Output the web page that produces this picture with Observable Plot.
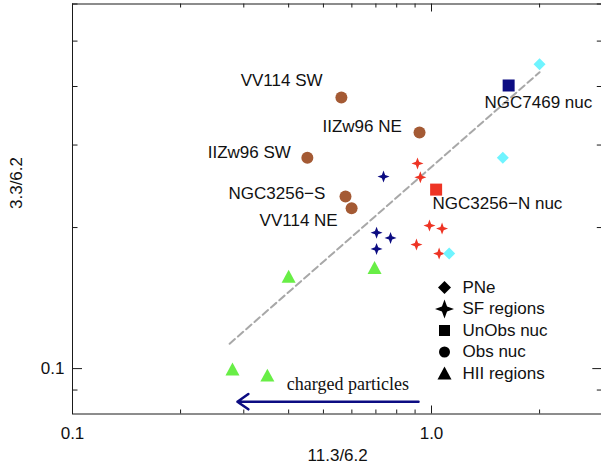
<!DOCTYPE html>
<html><head><meta charset="utf-8">
<script src="https://cdn.jsdelivr.net/npm/d3@7"></script>
<script src="https://cdn.jsdelivr.net/npm/@observablehq/plot@0.6"></script>
<style>
html,body{margin:0;padding:0;background:#fff;overflow:hidden;}
</style></head><body><div id="chart"></div>
<script>
// ---- data ----
const pneX = [2.0, 1.58, 1.12];
const pneY = [0.446, 0.282, 0.176];
const sfRedX = [0.914, 0.931, 0.987, 1.07, 0.908, 1.05];
const sfRedY = [0.274, 0.256, 0.202, 0.199, 0.184, 0.176];
const sfNavyX = [0.735, 0.703, 0.769, 0.703];
const sfNavyY = [0.257, 0.195, 0.190, 0.180];
const unobsX = [1.64, 1.03];
const unobsY = [0.402, 0.241];
const unobsGroup = ["navy", "red"];
const obsX = [0.561, 0.926, 0.451, 0.576, 0.599];
const obsY = [0.379, 0.319, 0.282, 0.233, 0.220];
const hiiX = [0.694, 0.400, 0.279, 0.349];
const hiiY = [0.164, 0.157, 0.0995, 0.0966];
const fitX = [0.274, 2.0];
const fitY = [0.113, 0.429];
const labelNames = ["VV114 SW", "IIZw96 NE", "IIZw96 SW", "NGC3256\u2212S", "VV114 NE", "NGC7469 nuc", "NGC3256\u2212N nuc"];
const labelX = [0.294, 0.497, 0.238, 0.272, 0.332, 1.405, 1.006];
const labelY = [0.412, 0.329, 0.289, 0.2365, 0.207, 0.370, 0.2253];
const arrowX = [0.92, 0.288];
const arrowY = [0.085, 0.085];
const arrowText = "charged particles";
const arrowTextX = [0.585];
const arrowTextY = [0.0927];
const legendLabels = ["PNe", "SF regions", "UnObs nuc", "Obs nuc", "HII regions"];
const xTickLabels = [0.1, 1.0];
const yTickLabels = [0.1];
const xMinorTicks = [0.2, 0.3, 0.4, 0.5, 0.6, 0.7, 0.8, 0.9, 2, 3];
const xMajorTicks = [0.1, 1];
const yMinorTicks = [0.09, 0.2, 0.3, 0.4, 0.5, 0.6];
const yMajorTicks = [0.1];
const xLabel = "11.3/6.2";
const yLabel = "3.3/6.2";

// ---- styles ----
const C = {cyan: "#6ff4ff", navy: "#0c0c82", red: "#ee3424", brown: "#a45a34", green: "#68ee46", ink: "#1a1a1a"};
const FONT = "Liberation Sans, Arial, Helvetica, sans-serif";
const R = s => Math.sqrt(s / Math.PI);
const diamondSym = {draw(c, s) { const r = R(s); c.moveTo(0, -r); c.lineTo(r, 0); c.lineTo(0, r); c.lineTo(-r, 0); c.closePath(); }};
const starSym = {draw(c, s) { const r = R(s), a = 0.27 * r; c.moveTo(0, -r); c.lineTo(a, -a); c.lineTo(r, 0); c.lineTo(a, a); c.lineTo(0, r); c.lineTo(-a, a); c.lineTo(-r, 0); c.lineTo(-a, -a); c.closePath(); }};
const squareSym = {draw(c, s) { const r = R(s); c.rect(-r, -r, 2 * r, 2 * r); }};
const circleSym = {draw(c, s) { const r = R(s); c.moveTo(r, 0); c.arc(0, 0, r, 0, 2 * Math.PI); c.closePath(); }};
const triSym = {draw(c, s) { const r = R(s); c.moveTo(0, -r); c.lineTo(r, 0.85 * r); c.lineTo(-r, 0.85 * r); c.closePath(); }};

const W = 601, H = 471, mL = 72, mT = 3.5, mB = 57.5, mR = -1.3;
const frameW = W - mL - mR, frameH = H - mT - mB;

const zip = (xs, ys, extra = {}) => xs.map((x, i) => ({x, y: ys[i], i, ...Object.fromEntries(Object.entries(extra).map(([k, v]) => [k, v[i]]))}));

const legendSyms = [
  {sym: diamondSym, r: 6.5},
  {sym: starSym, r: 9.5},
  {sym: squareSym, r: 5.5},
  {sym: circleSym, r: 5.5},
  {sym: triSym, r: 7}
];

const txt = {fontSize: 17, fontFamily: FONT, fill: "#111", lineAnchor: "middle"};

const marks = [
  // ticks (inward, all four sides)
  Plot.tickX(xMinorTicks, {x: d => d, insetTop: frameH - 4, stroke: C.ink}),
  Plot.tickX(xMinorTicks, {x: d => d, insetBottom: frameH - 4, stroke: C.ink}),
  Plot.tickX(xMajorTicks, {x: d => d, insetTop: frameH - 8, stroke: C.ink}),
  Plot.tickX(xMajorTicks, {x: d => d, insetBottom: frameH - 8, stroke: C.ink}),
  Plot.tickY(yMinorTicks, {y: d => d, insetRight: frameW - 5.5, stroke: C.ink}),
  Plot.tickY(yMinorTicks, {y: d => d, insetLeft: frameW - 5.5, stroke: C.ink}),
  Plot.tickY(yMajorTicks, {y: d => d, insetRight: frameW - 10, stroke: C.ink}),
  Plot.tickY(yMajorTicks, {y: d => d, insetLeft: frameW - 10, stroke: C.ink}),
  Plot.frame({stroke: C.ink, strokeWidth: 1}),
  // tick labels
  Plot.text(xTickLabels, {...txt, x: d => d, frameAnchor: "bottom", dy: 20, text: d => d.toFixed(1)}),
  Plot.text(yTickLabels, {...txt, y: d => d, frameAnchor: "left", dx: -8, textAnchor: "end", text: d => d.toFixed(1)}),
  // axis titles
  Plot.text([xLabel], {...txt, frameAnchor: "bottom", dy: 42, text: d => d}),
  Plot.text([yLabel], {...txt, frameAnchor: "left", dx: -56, rotate: -90, text: d => d}),
  // fit line
  Plot.line(zip(fitX, fitY), {x: "x", y: "y", stroke: "#a8a8a8", strokeWidth: 2, strokeDasharray: "7,4"}),
  // arrow
  Plot.arrow([{x1: arrowX[0], y1: arrowY[0], x2: arrowX[1], y2: arrowY[1]}], {x1: "x1", y1: "y1", x2: "x2", y2: "y2", stroke: C.navy, strokeWidth: 2.5, headLength: 8, headAngle: 70, bend: 0}),
  Plot.text(zip(arrowTextX, arrowTextY), {x: "x", y: "y", text: () => arrowText, fontSize: 18, fontFamily: "Liberation Serif, Times New Roman, serif", fill: "#111", lineAnchor: "middle"}),
  // data
  Plot.dot(zip(hiiX, hiiY), {x: "x", y: "y", symbol: triSym, r: 7, fill: C.green, stroke: "none"}),
  Plot.dot(zip(obsX, obsY), {x: "x", y: "y", symbol: circleSym, r: 6, fill: C.brown, stroke: "none"}),
  Plot.dot(zip(sfNavyX, sfNavyY), {x: "x", y: "y", symbol: starSym, r: 6, fill: C.navy, stroke: "none"}),
  Plot.dot(zip(sfRedX, sfRedY), {x: "x", y: "y", symbol: starSym, r: 6, fill: C.red, stroke: "none"}),
  Plot.dot(zip(unobsX, unobsY, {g: unobsGroup}), {x: "x", y: "y", symbol: squareSym, r: 6, fill: d => C[d.g], stroke: "none"}),
  Plot.dot(zip(pneX, pneY), {x: "x", y: "y", symbol: diamondSym, r: 6, fill: C.cyan, stroke: "none"}),
  // point labels
  Plot.text(zip(labelX, labelY, {t: labelNames}), {...txt, x: "x", y: "y", text: "t", textAnchor: "start"}),
];

// legend
legendLabels.forEach((lab, i) => {
  const dyRow = 283.5 + 21.5 * i;
  marks.push(Plot.dot([lab], {frameAnchor: "top-left", dx: 372, dy: dyRow, symbol: legendSyms[i].sym, r: legendSyms[i].r, fill: "#000", stroke: "none"}));
  marks.push(Plot.text([lab], {...txt, frameAnchor: "top-left", dx: 390, dy: dyRow, text: d => d, textAnchor: "start"}));
});

const chart = Plot.plot({
  width: W, height: H,
  marginLeft: mL, marginRight: mR, marginTop: mT, marginBottom: mB,
  x: {type: "log", domain: [0.1, 3], axis: null},
  y: {type: "log", domain: [0.08, 0.6], axis: null},
  style: {fontFamily: FONT, background: "#fff"},
  marks
});
document.getElementById("chart").appendChild(chart);
</script></body></html>
